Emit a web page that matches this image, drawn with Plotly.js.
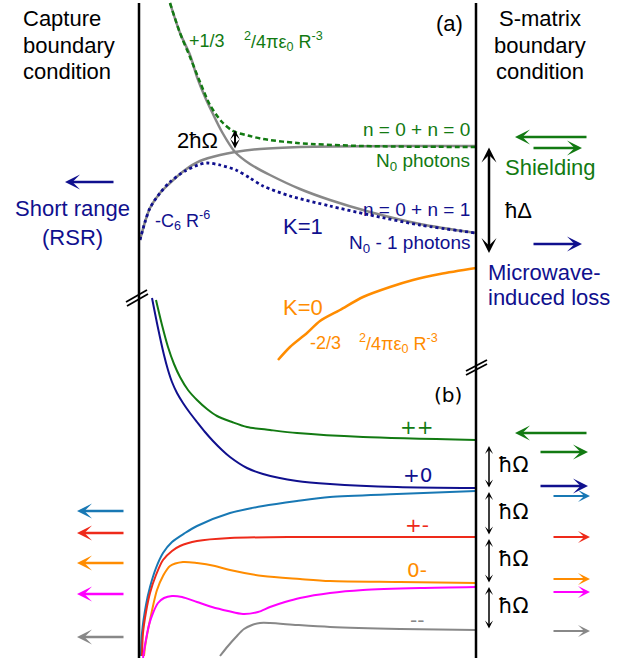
<!DOCTYPE html>
<html><head><meta charset="utf-8">
<script src="https://cdn.plot.ly/plotly-3.0.1.min.js"></script>
<style>html,body{margin:0;padding:0;background:#fff}#chart{width:634px;height:658px}</style>
</head><body><div id="chart"></div>
<script>
// ---------- data (schematic coordinates: x = R axis, y = energy axis, downward) ----------
// Panel (a)
const grayRepX = [170,180,190,197,205,212,222,235,250,270,300,330,370,420,476];
const grayRepY = [3,33,55,77,97,112,132,152,164,175,189,200,212,224,233];
const greenDashX = [170,180,190,200,210,222,233,250,263,297,363,476];
const greenDashY = [3,33,57,82,105,122,131,136,139,143,146,147];
const grayAttX = [140,145,150,160,170,185,200,220,235,260,300,400,476];
const grayAttY = [240,222,208,193,183,170,161,155,152,149,147,146,146];
const blueDotX = [140,145,150,160,170,185,198,207,220,236,250,263,290,330,370,420,476];
const blueDotY = [240,222,208,193,182,171,165,163,165,170,178,186,196,206,215,225,233];
const orangeK0X = [278,290,307,320,340,363,390,413,440,476];
const orangeK0Y = [360,347,333,321,310,297,287,280,274,268];
// Panel (b)
const ppX = [156,162,168,174,180,188,197,207,217,232,247,270,297,363,476];
const ppY = [300,325,347,364,377,390,400,409,416,422,427,430,433,437,440];
const p0X = [152,158,164,168,172,177,183,190,197,205,213,222,230,247,263,297,330,397,476];
const p0Y = [298,328,355,370,382,393,403,413,422,432,441,450,457,468,474,481,484,487,488];
const cyanX = [141,142,146,150,156,163,172,185,197,230,263,297,330,397,476];
const cyanY = [656,633,605,587,568,553,542,533,526,513,506,501,497,494,491];
const pmX = [142,143,146,150,156,163,172,180,197,230,300,476];
const pmY = [656,633,612,593,575,560,551,546,541,538,537,537];
const zmX = [144,145,150,157,163,170,183,197,215,230,263,300,330,400,476];
const zmY = [656,647,620,590,576,566,562,563,566,570,576,579,581,582,583];
const magX = [143,145,149,153,158,164,172,182,197,212,228,243,258,270,285,300,330,363,420,476];
const magY = [658,645,625,613,603,598,596,597,602,607,611,614,612,607,602,598,593,590,588,587];
const mmX = [220,228,236,244,252,260,270,297,330,400,476];
const mmY = [656,646,637,629,625,623,623,625,627,629,630];
// boundaries
const boundaryX = [139,476];
const boundaryTop = 3, boundaryBottom = 658;
// arrows
const leftArrowY = [511,533,563,594,637];
const rightArrowY = [496,537,579,592,631];
const hbarOmegaLevels = [443,489,536,584,630];
const hbarDeltaLevels = [146,253];

const GREEN='#127a12', NAVY='#10108e', BLUE='#1878b4', RED='#ee2a1a', ORANGE='#ff8c00', MAG='#ff00ff', GRAY='#888888';
const leftArrowColors=[BLUE,RED,ORANGE,MAG,GRAY];
const rightArrowColors=[BLUE,RED,ORANGE,MAG,GRAY];

function line(x,y,color,width,dash){
  return {x:x,y:y,mode:'lines',type:'scatter',hoverinfo:'skip',
    line:{color:color,width:width,dash:dash||'solid',shape:'spline',smoothing:0.8}};
}
function seg(x,y,color,width){
  return {x:x,y:y,mode:'lines',type:'scatter',hoverinfo:'skip',line:{color:color,width:width}};
}

const traces = [
  line(grayRepX,grayRepY,GRAY,2.5),
  line(grayAttX,grayAttY,GRAY,2.5),
  line(greenDashX,greenDashY,GREEN,2.5,'5px,3px'),
  line(blueDotX,blueDotY,NAVY,2.8,'dot'),
  line(orangeK0X,orangeK0Y,ORANGE,2.5),
  line(ppX,ppY,GREEN,2),
  line(p0X,p0Y,NAVY,2),
  line(cyanX,cyanY,BLUE,2),
  line(pmX,pmY,RED,2),
  line(zmX,zmY,ORANGE,2),
  line(magX,magY,MAG,2),
  line(mmX,mmY,GRAY,2),
  seg([boundaryX[0],boundaryX[0]],[boundaryTop,boundaryBottom],'#000',2.5),
  seg([boundaryX[1],boundaryX[1]],[boundaryTop,boundaryBottom],'#000',2.5),
  seg([126,147],[302,290],'#000',1.8),
  seg([127,148],[306,294],'#000',1.8),
  seg([466,487],[371,360],'#000',1.8),
  seg([466,487],[375,364],'#000',1.8)
];

const FA = 'Liberation Sans, Arial, sans-serif';
const FD = 'DejaVu Sans, sans-serif';
const ann = [];
function txt(t,x,y,color,size,xa,fam){
  ann.push({text:t,x:x,y:y,xref:'x',yref:'y',showarrow:false,xanchor:xa||'center',yanchor:'middle',
    font:{family:fam||FA,size:size,color:color}});
}
function arrow(x0,y0,x1,y1,color,w,size,both,head){
  ann.push({text:'',x:x1,y:y1,ax:x0,ay:y0,xref:'x',yref:'y',axref:'x',ayref:'y',showarrow:true,
    arrowhead:head||3,startarrowhead:head||3,arrowside:both?'end+start':'end',arrowsize:size,startarrowsize:size,
    arrowwidth:w,arrowcolor:color,standoff:0,startstandoff:0});
}
txt('Capture',21,18,'#000',22,'left');
txt('boundary',21,45,'#000',22,'left');
txt('condition',21,71,'#000',22,'left');
txt('S-matrix',540,18,'#000',22);
txt('boundary',540,45,'#000',22);
txt('condition',540,71,'#000',22);
txt('Short range',72,208,NAVY,22);
txt('(RSR)',72,237,NAVY,22);
arrow(115,182,65,182,NAVY,2.5,1);
txt('(a)',449,23,'#000',22);
txt('+1/3',187,41,GREEN,18,'left');
txt('<sup>2</sup>/4πε<sub>0</sub> R<sup>-3</sup>',242,41,GREEN,18,'left');
txt('2ħΩ',197,140,'#000',22);
arrow(235,150,235,130,'#000',2,0.8,true);
txt('n = 0 + n = 0',472,129,GREEN,19,'right');
txt('N<sub>0</sub> photons',472,162,GREEN,19,'right');
txt('n = 0 + n = 1',472,209,NAVY,19,'right');
txt('N<sub>0</sub> - 1 photons',472,244,NAVY,19,'right');
txt('K=1',303,226,NAVY,22);
txt('-C<sub>6</sub> R<sup>-6</sup>',153,220,NAVY,18,'left');
txt('K=0',303,307,ORANGE,22);
txt('-2/3',308,343,ORANGE,18,'left');
txt('<sup>2</sup>/4πε<sub>0</sub> R<sup>-3</sup>',357,343,ORANGE,18,'left');
arrow(588,137,515,137,GREEN,2.5,1);
arrow(532,148,582,148,GREEN,2.5,1);
txt('Shielding',503,167,GREEN,22,'left');
arrow(489,hbarDeltaLevels[0],489,hbarDeltaLevels[1],'#000',2.5,1,true);
txt('ħΔ',503,210,'#000',22,'left');
arrow(532,244,582,244,NAVY,2.5,1);
txt('Microwave-',486,272,NAVY,22,'left');
txt('induced loss',486,297,NAVY,22,'left');
txt('(b)',448,395,'#000',20,'center',FD);
txt('++',417,427,GREEN,20,'center',FD);
txt('+0',417,475,NAVY,20,'center',FD);
txt('+-',417,525,RED,20,'center',FD);
txt('0-',417,570,ORANGE,20,'center',FD);
txt('--',417,620,GRAY,20,'center',FD);
for(let i=0;i<hbarOmegaLevels.length-1;i++){
  const a=hbarOmegaLevels[i]+1.5, b=hbarOmegaLevels[i+1]-1.5, m=(a+b)/2;
  arrow(489,a,489,b,'#000',1.5,0.9,true);
  txt('ħΩ',513,m-1,'#000',21,'center',FD);
}
arrow(588,433,515,433,GREEN,2.5,1);
arrow(539,452,588,452,GREEN,2.5,1);
arrow(539,486,588,486,NAVY,2.5,1);
for(let i=0;i<rightArrowY.length;i++) arrow(552,rightArrowY[i],590,rightArrowY[i],rightArrowColors[i],2,1);
for(let i=0;i<leftArrowY.length;i++) arrow(125,leftArrowY[i],77,leftArrowY[i],leftArrowColors[i],2.5,1);

const layout = {
  width:634,height:658,margin:{l:0,r:0,t:0,b:0},paper_bgcolor:'#fff',plot_bgcolor:'#fff',showlegend:false,
  xaxis:{range:[0,634],visible:false,fixedrange:true},
  yaxis:{range:[658,0],visible:false,fixedrange:true},
  annotations:ann
};
Plotly.newPlot('chart',traces,layout,{staticPlot:true,displayModeBar:false});
</script></body></html>
